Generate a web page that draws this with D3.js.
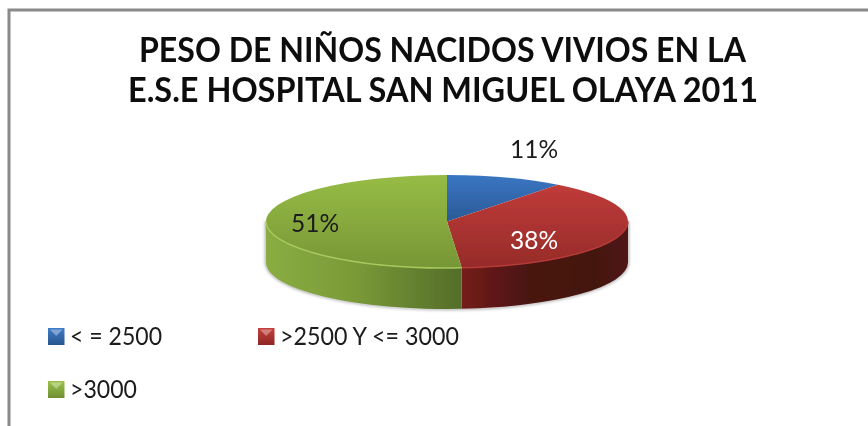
<!DOCTYPE html>
<html><head><meta charset="utf-8">
<script src="https://cdn.jsdelivr.net/npm/d3@7"></script>
<style>
html,body{margin:0;padding:0;background:#fff}
svg{display:block}
text{font-family:Lato,"Open Sans",sans-serif;fill:#1a1a1a}
</style></head><body><div id="chart"></div>
<script>
const titleLines = ["PESO DE NIÑOS NACIDOS VIVIOS EN LA", "E.S.E HOSPITAL SAN MIGUEL OLAYA 2011"];
const categories = ["< = 2500", ">2500 Y <= 3000", ">3000"];
const values = [10.5, 38.2, 51.3];
const labels = ["11%", "38%", "51%"];

const W = 868, H = 426;
const cx = 447, cy = 221.5, rx = 181, ry = 46.5, depth = 41;
const topShades = [["#3a76c2","#2a5a96"],["#c03b39","#962b29"],["#97bc45","#779636"]];
const swatchShades = [["#3f7cc8","#28558e"],["#c5403d","#8e2725"],["#9cc24a","#6f8e32"]];

const svg = d3.select("#chart").append("svg").attr("width",W).attr("height",H);
const defs = svg.append("defs");
const soft = defs.append("filter").attr("id","soft").attr("filterUnits","userSpaceOnUse")
  .attr("x",0).attr("y",0).attr("width",W).attr("height",H);
soft.append("feGaussianBlur").attr("stdDeviation",0.45);
const haze = defs.append("filter").attr("id","haze").attr("filterUnits","userSpaceOnUse")
  .attr("x",0).attr("y",0).attr("width",W).attr("height",H);
haze.append("feGaussianBlur").attr("stdDeviation",1.5);

function grad(id, stops, horizontal){
  const g = defs.append("linearGradient").attr("id",id)
    .attr("x1",0).attr("y1",0).attr("x2",horizontal?1:0).attr("y2",horizontal?0:1);
  stops.forEach((c,i)=>g.append("stop").attr("offset",c[1]!==undefined&&Array.isArray(c)?c[0]:i).attr("stop-color",c[1]));
}
values.forEach((_,i)=>{
  grad("top"+i, [[0,topShades[i][0]],[1,topShades[i][1]]], false);
  grad("sw"+i, [[0,swatchShades[i][0]],[1,swatchShades[i][1]]], false);
});
grad("wallG", [[0,"#8aad42"],[0.45,"#7a9a38"],[1,"#546d29"]], true);
grad("wallR", [[0,"#741d1b"],[0.4,"#4a1311"],[0.8,"#431210"],[1,"#521714"]], true);

// frame: left and top rules only
svg.append("path").attr("d",`M9 ${H}V10H${W}`).attr("fill","none").attr("stroke","#8a8a8a").attr("stroke-width",3);

// title
svg.append("g").attr("filter","url(#soft)").selectAll("text").data(titleLines).join("text")
  .attr("x",(d,i)=>[442.5,443][i]).attr("y",(d,i)=>62+i*40).attr("text-anchor","middle")
  .attr("font-size",33.5).attr("font-weight",700).style("fill","#111")
  .attr("textLength",(d,i)=>[607,630][i]).attr("lengthAdjust","spacingAndGlyphs").text(d=>d);

// pie
const pie = d3.pie().sort(null).value(d=>d)(values);
const arc = d3.arc().innerRadius(0).outerRadius(rx);
const px = a => cx + rx*Math.sin(a);
const py = a => cy - ry*Math.cos(a);
const g3d = svg.append("g").attr("filter","url(#soft)");
const frontArc = a => `M${px(a[0])},${py(a[0])}A${rx},${ry} 0 0 1 ${px(a[1])},${py(a[1])}`;
const wallPath = a => frontArc(a) +
  `L${px(a[1])},${py(a[1])+depth}A${rx},${ry} 0 0 0 ${px(a[0])},${py(a[0])+depth}Z`;
// only the front half of the ellipse (angles PI/2..3PI/2) shows a wall
const frontOf = d => [Math.max(d.startAngle, Math.PI/2), Math.min(d.endAngle, 3*Math.PI/2)];
const frontSlices = pie.map((d,i)=>({i, a:frontOf(d)})).filter(s=>s.a[1]>s.a[0]);

// faint shadow hugging the wall
svg.insert("path","g").attr("d",wallPath([Math.PI/2,3*Math.PI/2]))
  .attr("fill","none").attr("stroke","#9a9a9a").attr("stroke-width",2).attr("filter","url(#haze)");

g3d.selectAll("path.wall").data(frontSlices).join("path").attr("class","wall")
  .attr("d",s=>wallPath(s.a)).attr("fill",s=>s.i===2?"url(#wallG)":"url(#wallR)");

// top faces: a circular d3.arc flattened into an ellipse
g3d.append("g").attr("transform",`translate(${cx},${cy}) scale(1,${ry/rx})`)
  .selectAll("path").data(pie).join("path")
  .attr("d",arc).attr("fill",(d,i)=>`url(#top${i})`);
// bevel highlight along the front rim
g3d.selectAll("path.rim").data(frontSlices).join("path").attr("class","rim")
  .attr("d",s=>frontArc(s.a)).attr("fill","none")
  .attr("stroke",s=>s.i===2?"#a6c85c":"#b53a38").attr("stroke-width",1.5);

// data labels
const labelPos = [[534,158],[534,249],[315,232]];
const labelFill = ["#1a1a1a","#ffffff","#1a1a1a"];
svg.append("g").attr("filter","url(#soft)").selectAll("text").data(labels).join("text")
  .attr("x",(d,i)=>labelPos[i][0]).attr("y",(d,i)=>labelPos[i][1])
  .attr("text-anchor","middle").attr("font-size",24.5)
  .style("fill",(d,i)=>labelFill[i]).text(d=>d);

// legend
const legendPos = [[48,345],[258,345],[48,398]];
const legendWidth = [92,179,67];
const lg = svg.append("g").attr("filter","url(#soft)").selectAll("g").data(categories).join("g")
  .attr("transform",(d,i)=>`translate(${legendPos[i][0]},${legendPos[i][1]})`);
lg.append("rect").attr("x",0).attr("y",-17).attr("width",16.5).attr("height",17).attr("fill",(d,i)=>`url(#sw${i})`);
lg.append("path").attr("d","M2,-15.5H14.5L8.2,-9Z").attr("fill","#fff").attr("opacity",0.35);
lg.append("text").attr("x",22).attr("y",0).attr("font-size",24.5)
  .attr("textLength",(d,i)=>legendWidth[i]).attr("lengthAdjust","spacingAndGlyphs").text(d=>d);
</script></body></html>
